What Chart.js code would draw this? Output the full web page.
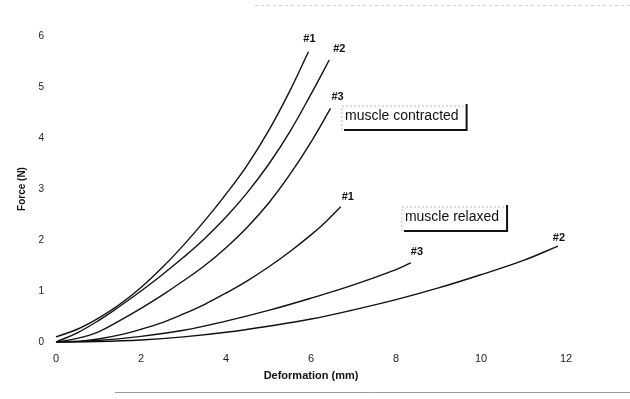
<!DOCTYPE html>
<html>
<head>
<meta charset="utf-8">
<script src="https://cdn.jsdelivr.net/npm/chart.js@4/dist/chart.umd.min.js"></script>
<style>
  html, body { margin: 0; padding: 0; background: #ffffff; }
  #wrap { width: 630px; height: 399px; position: relative; }
</style>
</head>
<body>
<div id="wrap"><canvas id="c" width="630" height="399"></canvas></div>
<script>
// ---- data ----
const xTicks = [0, 2, 4, 6, 8, 10, 12];
const yTicks = [0, 1, 2, 3, 4, 5, 6];

const contracted1X = [0, 0.5, 1, 1.5, 2, 2.5, 3, 3.5, 4, 4.5, 5, 5.5, 5.94];
const contracted1Y = [0.1, 0.25, 0.47, 0.74, 1.07, 1.46, 1.9, 2.38, 2.9, 3.47, 4.14, 4.92, 5.69];

const contracted2X = [0, 0.5, 1, 1.5, 2, 2.5, 3, 3.5, 4, 4.5, 5, 5.5, 6, 6.43];
const contracted2Y = [0, 0.18, 0.42, 0.7, 1.0, 1.32, 1.66, 2.03, 2.45, 2.93, 3.48, 4.12, 4.86, 5.53];

const contracted3X = [0, 0.5, 1, 1.5, 2, 2.5, 3, 3.5, 4, 4.5, 5, 5.5, 6, 6.46];
const contracted3Y = [0, 0.07, 0.2, 0.42, 0.66, 0.92, 1.2, 1.5, 1.85, 2.25, 2.72, 3.28, 3.92, 4.58];

const relaxed1X = [0, 0.5, 1, 1.5, 2, 2.5, 3, 3.5, 4, 4.5, 5, 5.5, 6, 6.35, 6.7];
const relaxed1Y = [0, 0.01, 0.06, 0.14, 0.25, 0.38, 0.55, 0.74, 0.96, 1.2, 1.47, 1.77, 2.1, 2.36, 2.65];

const relaxed3X = [0, 1, 2, 3, 4, 5, 6, 7, 8, 8.35];
const relaxed3Y = [0, 0.03, 0.11, 0.23, 0.41, 0.62, 0.86, 1.12, 1.42, 1.55];

const relaxed2X = [0, 1, 2, 3, 4, 5, 6, 7, 8, 9, 10, 11, 11.81];
const relaxed2Y = [0, 0.01, 0.04, 0.1, 0.19, 0.31, 0.45, 0.63, 0.83, 1.06, 1.32, 1.6, 1.88];

const seriesNames = ['#1', '#2', '#3', '#1', '#3', '#2'];
const groupLabels = ['muscle contracted', 'muscle relaxed'];
const groupLabelX = [6.8, 8.21];
const groupLabelY = [4.43, 2.45];

const xTitle = 'Deformation (mm)';
const yTitle = 'Force (N)';

// ---- build datasets ----
function pts(xs, ys) { return xs.map((x, i) => ({ x: x, y: ys[i] })); }
const allSeries = [
  pts(contracted1X, contracted1Y),
  pts(contracted2X, contracted2Y),
  pts(contracted3X, contracted3Y),
  pts(relaxed1X, relaxed1Y),
  pts(relaxed3X, relaxed3Y),
  pts(relaxed2X, relaxed2Y)
];

const datasets = allSeries.map((d, i) => ({
  label: seriesNames[i],
  data: d,
  showLine: true,
  borderColor: '#111111',
  borderWidth: 1.4,
  pointRadius: 0,
  pointHoverRadius: 0,
  fill: false,
  tension: 0.4,
  clip: false
}));

// label offsets (pixels) relative to each curve's end
const endLabelOffsets = [[1, -13], [10, -11], [7, -11], [7, -10], [6, -11], [1, -8]];

const annotate = {
  id: 'annotate',
  afterDatasetsDraw(chart) {
    const ctx = chart.ctx;
    const xs = chart.scales.x, ys = chart.scales.y;
    ctx.save();
    // end-of-curve labels
    ctx.fillStyle = '#111';
    ctx.font = 'bold 11px "Liberation Sans", Arial, sans-serif';
    ctx.textAlign = 'center';
    ctx.textBaseline = 'middle';
    allSeries.forEach((d, i) => {
      const last = d[d.length - 1];
      const px = xs.getPixelForValue(last.x) + endLabelOffsets[i][0];
      const py = ys.getPixelForValue(last.y) + endLabelOffsets[i][1];
      ctx.fillText(seriesNames[i], px, py);
    });
    // boxed group labels
    ctx.font = '14px "Liberation Sans", Arial, sans-serif';
    ctx.textAlign = 'left';
    groupLabels.forEach((t, i) => {
      const px = xs.getPixelForValue(groupLabelX[i]);
      const py = ys.getPixelForValue(groupLabelY[i]);
      const w = ctx.measureText(t).width;
      ctx.fillStyle = '#111';
      ctx.fillText(t, px, py);
      const l = px - 3, r = px + w + 8, top = py - 10, bot = py + 14;
      // faint dotted top/left
      ctx.strokeStyle = '#bbbbbb';
      ctx.lineWidth = 1;
      ctx.setLineDash([2, 2]);
      ctx.beginPath();
      ctx.moveTo(l, bot); ctx.lineTo(l, top); ctx.lineTo(r - 3, top);
      ctx.stroke();
      ctx.setLineDash([]);
      // dark shadow right/bottom
      ctx.strokeStyle = '#111';
      ctx.lineWidth = 2;
      ctx.beginPath();
      ctx.moveTo(r, top - 2); ctx.lineTo(r, bot); ctx.lineTo(l + 2, bot);
      ctx.stroke();
    });
    // faint frame remnants of the scanned figure
    ctx.strokeStyle = '#9a9a9a';
    ctx.lineWidth = 1;
    ctx.beginPath();
    ctx.moveTo(115, 392.5); ctx.lineTo(630, 392.5);
    ctx.stroke();
    ctx.strokeStyle = '#d0d0d0';
    ctx.setLineDash([3, 3]);
    ctx.beginPath();
    ctx.moveTo(255, 5.5); ctx.lineTo(630, 5.5);
    ctx.stroke();
    ctx.restore();
  }
};

new Chart(document.getElementById('c'), {
  type: 'scatter',
  data: { datasets: datasets },
  options: {
    responsive: false,
    animation: false,
    events: [],
    layout: { padding: { left: 0, right: 64, top: 36, bottom: 12 } },
    plugins: { legend: { display: false }, tooltip: { enabled: false } },
    scales: {
      x: {
        type: 'linear',
        min: 0, max: 12,
        afterBuildTicks(scale) { scale.ticks = xTicks.map(v => ({ value: v })); },
        afterFit(scale) { scale.height = 45; },
        border: { display: false },
        grid: { display: false, drawTicks: false },
        ticks: {
          padding: 10,
          color: '#222',
          font: { family: '"Liberation Sans", Arial, sans-serif', size: 11 },
          maxRotation: 0
        },
        title: {
          display: true,
          text: xTitle,
          color: '#111',
          font: { family: '"Liberation Sans", Arial, sans-serif', size: 11, weight: 'bold' },
          padding: { top: 0, bottom: 4 }
        }
      },
      y: {
        type: 'linear',
        min: 0, max: 6,
        afterBuildTicks(scale) { scale.ticks = yTicks.map(v => ({ value: v })); },
        afterFit(scale) { scale.width = 56; },
        border: { display: false },
        grid: { display: false, drawTicks: false },
        ticks: {
          padding: 12,
          color: '#222',
          font: { family: '"Liberation Sans", Arial, sans-serif', size: 10 }
        },
        title: {
          display: true,
          text: yTitle,
          color: '#111',
          font: { family: '"Liberation Sans", Arial, sans-serif', size: 10, weight: 'bold' },
          padding: { top: 16, bottom: 0 }
        }
      }
    }
  },
  plugins: [annotate]
});
</script>
</body>
</html>
